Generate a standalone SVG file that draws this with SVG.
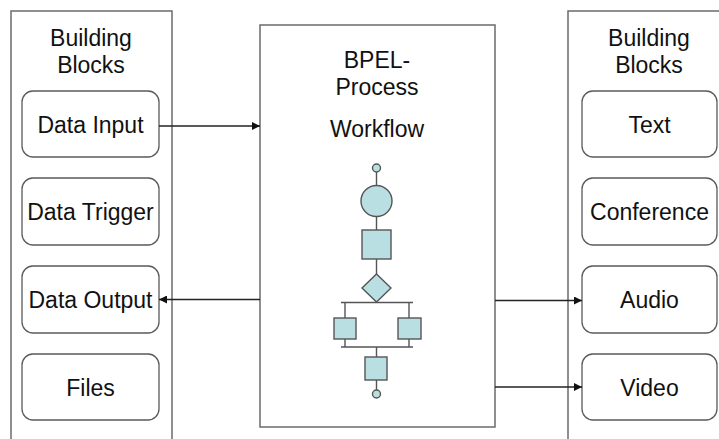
<svg xmlns="http://www.w3.org/2000/svg" width="719" height="439" viewBox="0 0 719 439">
<defs>
<style>
.panel{fill:#fff;stroke:#6b6b6b;stroke-width:1.5}
.blk{fill:#fff;stroke:#5a5a5a;stroke-width:1.3}
.t{font-family:"Liberation Sans",Arial,sans-serif;font-size:23px;fill:#111;text-anchor:middle}
.wf{fill:#badfe3;stroke:#555;stroke-width:1.4}
.wl{fill:none;stroke:#555;stroke-width:1.4}
.conn{fill:none;stroke:#222;stroke-width:1.5}
</style>
<marker id="ah" viewBox="0 0 10 10" refX="10" refY="5" markerWidth="8" markerHeight="8" markerUnits="userSpaceOnUse" orient="auto">
<path d="M0,0 L10,5 L0,10 Z" fill="#111"/>
</marker>
</defs>
<rect width="719" height="439" fill="#fff"/>

<g id="left-panel">
<rect class="panel" x="11" y="11" width="161" height="440"/>
<text class="t" x="91" y="46">Building</text>
<text class="t" x="91" y="73">Blocks</text>
</g>
<g id="data-input"><rect class="blk" x="22" y="91" width="137" height="66" rx="11"/><text class="t" x="90.5" y="132.5">Data Input</text></g>
<g id="data-trigger"><rect class="blk" x="22" y="178" width="137" height="67" rx="11"/><text class="t" x="90.5" y="220">Data Trigger</text></g>
<g id="data-output"><rect class="blk" x="22" y="266" width="137" height="67" rx="11"/><text class="t" x="90.5" y="308">Data Output</text></g>
<g id="files"><rect class="blk" x="22" y="354" width="137" height="66" rx="11"/><text class="t" x="90.5" y="395.5">Files</text></g>

<g id="right-panel">
<rect class="panel" x="568" y="11" width="170" height="440"/>
<text class="t" x="649" y="46">Building</text>
<text class="t" x="649" y="73">Blocks</text>
</g>
<g id="text"><rect class="blk" x="582" y="91" width="135" height="66" rx="11"/><text class="t" x="649.5" y="132.5">Text</text></g>
<g id="conference"><rect class="blk" x="582" y="178" width="135" height="67" rx="11"/><text class="t" x="649.5" y="220">Conference</text></g>
<g id="audio"><rect class="blk" x="582" y="266" width="135" height="67" rx="11"/><text class="t" x="649.5" y="308">Audio</text></g>
<g id="video"><rect class="blk" x="582" y="354" width="135" height="66" rx="11"/><text class="t" x="649.5" y="395.5">Video</text></g>

<g id="bpel-process">
<rect class="panel" x="260" y="25" width="235" height="402"/>
<text class="t" x="377" y="68">BPEL-</text>
<text class="t" x="377" y="95">Process</text>
<text class="t" x="377" y="137">Workflow</text>
<g id="workflow">
<path class="wl" d="M376.5,172 V186 M376.5,216 V230 M376.5,259 V274 M341,302.5 H413 M345,302.5 V318 M409,302.5 V318 M345,339 V347 M409,339 V347 M341,347 H413 M376.5,347 V357 M376.5,380 V390"/>
<circle class="wf" cx="376.5" cy="168" r="4"/>
<circle class="wf" cx="376.5" cy="201" r="15.5"/>
<rect class="wf" x="362" y="230" width="29" height="29"/>
<path class="wf" d="M376.5,274 L391,288 L376.5,302 L362,288 Z"/>
<rect class="wf" x="334" y="318" width="22" height="21"/>
<rect class="wf" x="398" y="318" width="23" height="21"/>
<rect class="wf" x="365" y="357" width="22" height="23"/>
<circle class="wf" cx="376.5" cy="394" r="4"/>
</g>
</g>

<g id="connectors">
<line class="conn" x1="159" y1="126" x2="260" y2="126" marker-end="url(#ah)"/>
<line class="conn" x1="260" y1="299.5" x2="159" y2="299.5" marker-end="url(#ah)"/>
<line class="conn" x1="495" y1="300.5" x2="582" y2="300.5" marker-end="url(#ah)"/>
<line class="conn" x1="495" y1="387" x2="582" y2="387" marker-end="url(#ah)"/>
</g>
</svg>
